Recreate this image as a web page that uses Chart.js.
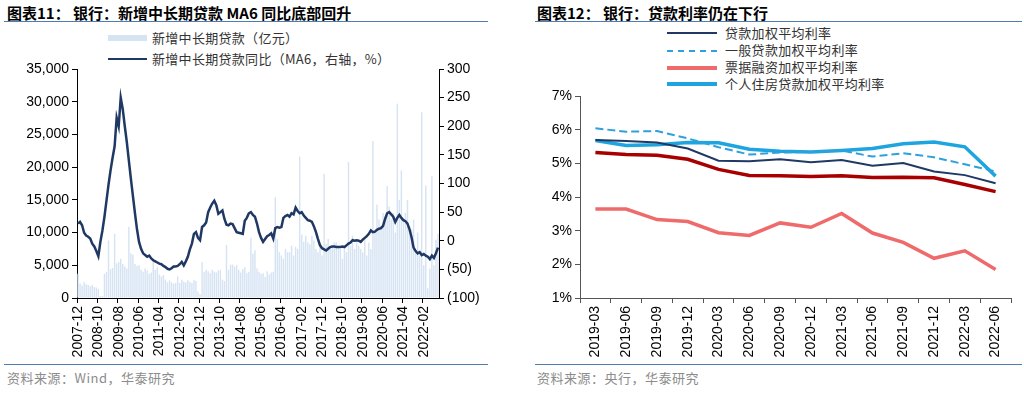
<!DOCTYPE html>
<html>
<head>
<meta charset="utf-8">
<title>银行：新增中长期贷款与贷款利率</title>
<script src="https://cdn.jsdelivr.net/npm/chart.js"></script>
<style>
    body { margin: 0; background: #fff; width: 1024px; height: 394px; position: relative; overflow: hidden;
           font-family: "Noto Sans CJK SC", sans-serif; }
    .title { position: absolute; top: 2px; font-size: 15px; font-weight: bold; color: #000; white-space: nowrap; }
    .rule { position: absolute; height: 1px; background: #4f7db0; }
    .source { position: absolute; top: 368px; font-size: 13px; color: #8c8c8c; white-space: nowrap; letter-spacing: 0.5px; }
    .leg { position: absolute; font-size: 13px; color: #333; white-space: nowrap; line-height: 16px; letter-spacing: 0.3px; }
    .sw { position: absolute; }
    canvas { position: absolute; top: 0; }
</style>
</head>
<body>
    <div class="title" style="left:7px">图表11： 银行：新增中长期贷款 MA6 同比底部回升</div>
    <div class="rule" style="left:4px; width:484px; top:21px"></div>
    <div class="rule" style="left:4px; width:484px; top:364px"></div>
    <div class="source" style="left:7px">资料来源：Wind，华泰研究</div>

    <div class="sw" style="left:108px; top:35px; width:39px; height:6px; background:#d6e3f3"></div>
    <div class="leg" style="left:152px; top:30px">新增中长期贷款（亿元）</div>
    <div class="sw" style="left:108px; top:58px; width:39px; height:2px; background:#1f3864"></div>
    <div class="leg" style="left:152px; top:51px">新增中长期贷款同比（MA6，右轴，%）</div>

    <div class="title" style="left:537px">图表12： 银行：贷款利率仍在下行</div>
    <div class="rule" style="left:535px; width:487px; top:21px"></div>
    <div class="rule" style="left:535px; width:487px; top:364px"></div>
    <div class="source" style="left:537px">资料来源：央行，华泰研究</div>

    <div class="sw" style="left:667px; top:32px; width:50px; height:2px; background:#1f3864"></div>
    <div class="leg" style="left:725px; top:25px">贷款加权平均利率</div>
    <div class="sw" style="left:667px; top:50px; width:50px; height:0; border-top:2px dashed #2ea1dc"></div>
    <div class="leg" style="left:725px; top:42px">一般贷款加权平均利率</div>
    <div class="sw" style="left:667px; top:66px; width:50px; height:4px; background:#ef6b6b"></div>
    <div class="leg" style="left:725px; top:59px">票据融资加权平均利率</div>
    <div class="sw" style="left:667px; top:82px; width:50px; height:4px; background:#1ea5e0"></div>
    <div class="leg" style="left:725px; top:76px">个人住房贷款加权平均利率</div>

    <canvas id="left" width="512" height="394" style="left:0; width:512px; height:394px"></canvas>
    <canvas id="right" width="512" height="394" style="left:512px; width:512px; height:394px"></canvas>
<script>
    // 月份：2007-12 至 2022-09
    const months = [];
    for (let y = 2007, m = 12; y < 2022 || m <= 9; ) {
        months.push(y + '-' + String(m).padStart(2, '0'));
        m++;
        if (m > 12) { m = 1; y++; }
    }

    // 新增中长期贷款（亿元）
    const newLoans = [
        3700,
        2200, 1900, 2400, 2100, 2000, 1800, 2000, 1700, 1600, 1400, 300, 300,
        3700, 4000, 8800, 4400, 4600, 9800, 5300, 5500, 6000, 5200, 4800, 4500,
        10900, 6800, 6600, 5200, 4900, 5000, 4300, 4000, 4500, 4200, 3700, 3900,
        5800, 4300, 4700, 3600, 3300, 3500, 2800, 2400, 2700, 2400, 2200, 2300,
        3300, 2300, 2800, 2500, 2400, 2700, 2500, 2300, 2800, 2600, 1000, 600,
        5500, 4000, 4300, 4100, 3800, 4300, 4000, 3900, 4200, 4300, 2800, 2600,
        8100, 4300, 5100, 5100, 4800, 5000, 4300, 3900, 4400, 4700, 3800, 4000,
        9200, 6800, 7300, 4500, 4000, 3700, 3800, 3200, 4100, 3600, 3900, 4000,
        15400, 9000, 7000, 6500, 6000, 7500, 7000, 7000, 8000, 6500, 7800, 7500,
        21600, 9700, 8600, 9500, 8500, 8200, 9500, 8800, 7500, 7000, 7800, 6500,
        19000, 8300, 9000, 7500, 8000, 8500, 8500, 8000, 7500, 6000, 7500, 7000,
        20800, 8000, 9500, 7500, 8500, 8000, 7500, 7000, 9000, 6500, 8500, 7500,
        24000, 10000, 14300, 12000, 11000, 13000, 12500, 17100, 14000, 12000, 13000, 10000,
        29700, 15000, 19500, 12000, 13000, 15000, 11000, 10500, 12000, 7000, 10000, 6500,
        28400, 5000, 17200, 1500, 4500, 18600, 5000, 8900, 9800
    ];

    // 新增中长期贷款同比（MA6，%）
    const loansYoY = [
        30,
        33, 27, 14, 9, 7, 4, -5, -10, -18, -27, -2, 18,
        42, 70, 98, 123, 145, 165, 215, 200, 250, 230, 200, 172,
        140, 108, 78, 48, 20, -2, -14, -22, -25, -28, -26, -31,
        -34, -36, -38, -40, -41, -44, -46, -49, -50, -48, -45, -45,
        -44, -41, -37, -43, -36, -28, -15, -5, 12, 15, 5, 1,
        24, 27, 32, 50, 58, 65, 70, 62, 47, 50, 53, 38,
        28, 27, 30, 29, 22, 15, 14, 13, 12, 35, 40, 48,
        50, 45, 42, 30, 15, 5, -2, 3, 8, 10, 13, 4,
        22, 24, 23, 24, 40, 43, 45, 42, 48, 46, 58, 52,
        48, 50, 44, 40, 36, 35, 33, 25, 15, 3, -8, -13,
        -15, -17, -14, -11, -10, -10, -11, -11, -11, -10, -11, -8,
        -5, -3, 1, 0, 1, 0, -2, 2, 5, 8, 12, 18,
        15, 16, 19, 21, 22, 26, 38, 48, 50, 46, 42, 33,
        40, 45, 40, 36, 34, 30, 20, 6, -12, -18, -22, -20,
        -25, -23, -26, -28, -32, -26, -30, -22, -12
    ];

    // 右图：季度
    const quarters = ['2019-03', '2019-06', '2019-09', '2019-12', '2020-03', '2020-06', '2020-09',
                      '2020-12', '2021-03', '2021-06', '2021-09', '2021-12', '2022-03', '2022-06'];
    const loanRate     = [5.69, 5.66, 5.62, 5.44, 5.08, 5.06, 5.12, 5.03, 5.10, 4.93, 5.01, 4.76, 4.65, 4.41];
    const generalRate  = [6.04, 5.94, 5.96, 5.74, 5.48, 5.26, 5.32, 5.34, 5.38, 5.20, 5.30, 5.18, 4.97, 4.76];
    const billRate     = [3.64, 3.64, 3.33, 3.27, 2.94, 2.86, 3.23, 3.10, 3.51, 2.93, 2.65, 2.18, 2.40, 1.85];
    const mortgageRate = [5.68, 5.53, 5.55, 5.62, 5.61, 5.42, 5.36, 5.34, 5.38, 5.44, 5.58, 5.63, 5.49, 4.62];
    const corpRate     = [5.32, 5.26, 5.24, 5.12, 4.82, 4.64, 4.63, 4.61, 4.63, 4.58, 4.59, 4.57, 4.37, 4.16];

    const axisFont = { family: 'Liberation Sans, Arial, sans-serif', size: 14 };

    new Chart(document.getElementById('left'), {
        data: {
            labels: months,
            datasets: [{
                type: 'line',
                data: loansYoY,
                yAxisID: 'y1',
                borderColor: '#1f3864',
                borderWidth: 2.5,
                pointRadius: 0,
                tension: 0,
                order: 0
            }, {
                type: 'bar',
                data: newLoans,
                yAxisID: 'y',
                backgroundColor: '#d6e3f3',
                barPercentage: 0.7,
                categoryPercentage: 1,
                order: 1
            }]
        },
        options: {
            responsive: false,
            animation: false,
            layout: { padding: { top: 69, left: 0, right: 0, bottom: 0 } },
            plugins: { legend: { display: false }, tooltip: { enabled: false } },
            scales: {
                x: {
                    offset: true,
                    grid: {
                        offset: true,
                        drawOnChartArea: false,
                        tickLength: 5,
                        color: ctx => (ctx.index % 10 === 0 ? '#000' : 'rgba(0,0,0,0)')
                    },
                    border: { color: '#000' },
                    ticks: {
                        autoSkip: false,
                        maxRotation: 90,
                        minRotation: 90,
                        color: '#000',
                        font: axisFont,
                        callback: function (v, i) { return i % 10 === 0 ? months[i] : ''; }
                    },
                    afterFit: s => { s.height = 96; }
                },
                y: {
                    position: 'left',
                    min: 0, max: 35000,
                    grid: { drawOnChartArea: false, tickLength: 5, color: '#000' },
                    border: { color: '#000' },
                    ticks: {
                        stepSize: 5000,
                        color: '#000',
                        font: axisFont,
                        callback: v => v.toLocaleString('en-US')
                    },
                    afterFit: s => { s.width = 77; }
                },
                y1: {
                    position: 'right',
                    min: -100, max: 300,
                    grid: { drawOnChartArea: false, tickLength: 5, color: '#000' },
                    border: { color: '#000' },
                    ticks: {
                        stepSize: 50,
                        color: '#000',
                        font: axisFont,
                        callback: v => (v < 0 ? '(' + (-v) + ')' : String(v))
                    },
                    afterFit: s => { s.width = 73; }
                }
            }
        }
    });

    new Chart(document.getElementById('right'), {
        type: 'line',
        data: {
            labels: quarters,
            datasets: [
                { data: loanRate, borderColor: '#1f3864', borderWidth: 2, order: 0 },
                { data: generalRate, borderColor: '#2ea1dc', borderWidth: 2, borderDash: [8, 4], order: 1 },
                { data: billRate, borderColor: '#ef6b6b', borderWidth: 3.5, order: 3 },
                { data: mortgageRate, borderColor: '#1ea5e0', borderWidth: 3.5, order: 2 },
                { data: corpRate, borderColor: '#a80000', borderWidth: 3.5, order: 4 }
            ]
        },
        options: {
            responsive: false,
            animation: false,
            layout: { padding: { top: 96, left: 0, right: 13, bottom: 0 } },
            elements: { point: { radius: 0 }, line: { tension: 0 } },
            plugins: { legend: { display: false }, tooltip: { enabled: false } },
            scales: {
                x: {
                    offset: true,
                    grid: { offset: true, drawOnChartArea: false, tickLength: 5, color: '#555' },
                    border: { color: '#555' },
                    ticks: { autoSkip: false, maxRotation: 90, minRotation: 90, color: '#000', font: axisFont },
                    afterFit: s => { s.height = 96; }
                },
                y: {
                    min: 1, max: 7,
                    grid: { drawOnChartArea: false, tickLength: 5, color: '#555' },
                    border: { color: '#555' },
                    ticks: { stepSize: 1, color: '#000', font: axisFont, callback: v => v + '%' },
                    afterFit: s => { s.width = 68; }
                }
            }
        }
    });
</script>
</body>
</html>
